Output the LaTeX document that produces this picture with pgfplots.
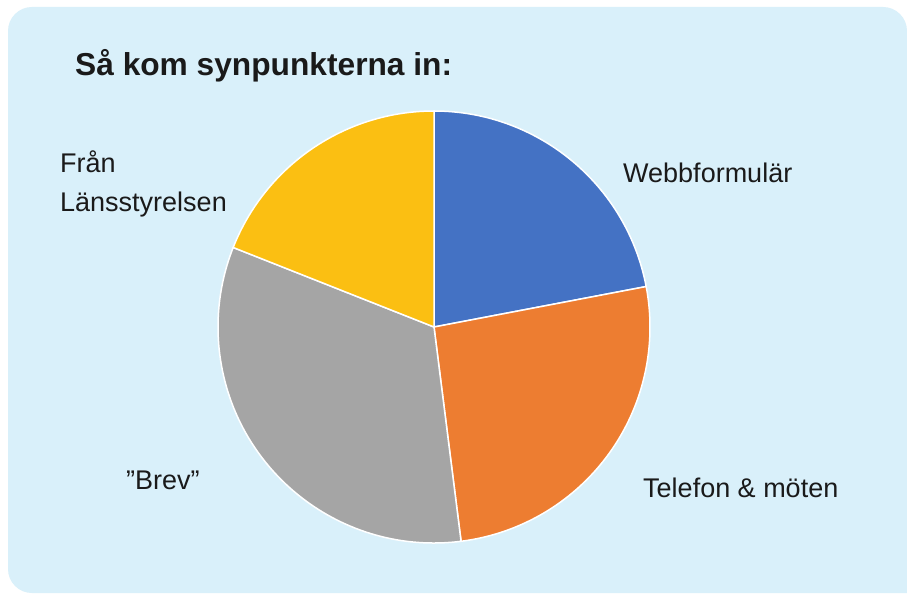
\documentclass[border=0pt]{standalone}
\usepackage{pgfplots}
\usepackage{pgfplotstable}
\pgfplotsset{compat=1.18}
\usepackage{fontspec}
\setmainfont{Liberation Sans}

\definecolor{bgblue}{HTML}{D9F0FA}
\definecolor{pieblue}{HTML}{4472C4}
\definecolor{pieorange}{HTML}{ED7D31}
\definecolor{piegray}{HTML}{A5A5A5}
\definecolor{pieyellow}{HTML}{FBBF12}
\definecolor{txt}{HTML}{1A1A1A}

% shares in percent, clockwise from 12 o'clock
\pgfplotstableread{
share
22
26
33
19
}\piedata

\begin{document}
\begin{tikzpicture}
\pgfplotstablegetelem{0}{share}\of\piedata \let\sA\pgfplotsretval
\pgfplotstablegetelem{1}{share}\of\piedata \let\sB\pgfplotsretval
\pgfplotstablegetelem{2}{share}\of\piedata \let\sC\pgfplotsretval
\pgfplotstablegetelem{3}{share}\of\piedata \let\sD\pgfplotsretval
\pgfmathsetmacro\aA{90}
\pgfmathsetmacro\aB{\aA-3.6*\sA}
\pgfmathsetmacro\aC{\aB-3.6*\sB}
\pgfmathsetmacro\aD{\aC-3.6*\sC}
\pgfmathsetmacro\aE{\aD-3.6*\sD}
\begin{axis}[
    hide axis,
    scale only axis,
    x=1pt, y=1pt,
    xmin=0, xmax=907,
    ymin=0, ymax=595,
    clip=false,
]
\fill[white] (axis cs:0,0) rectangle (axis cs:907,595);
\fill[bgblue] (axis cs:907,2) [rounded corners=24pt] -- (axis cs:8,2)
    -- (axis cs:8,588) -- (axis cs:907,588) [sharp corners] -- cycle;

\fill[pieblue, draw=white, line width=1.5pt] (axis cs:434,268) -- ++(\aA:216pt)
    arc[start angle=\aA, end angle=\aB, radius=216pt] -- cycle;
\fill[pieorange, draw=white, line width=1.5pt] (axis cs:434,268) -- ++(\aB:216pt)
    arc[start angle=\aB, end angle=\aC, radius=216pt] -- cycle;
\fill[piegray, draw=white, line width=1.5pt] (axis cs:434,268) -- ++(\aC:216pt)
    arc[start angle=\aC, end angle=\aD, radius=216pt] -- cycle;
\fill[pieyellow, draw=white, line width=1.5pt] (axis cs:434,268) -- ++(\aD:216pt)
    arc[start angle=\aD, end angle=\aE, radius=216pt] -- cycle;

\node[anchor=base west, inner sep=0pt, text=txt,
      font=\fontsize{31.7}{38}\selectfont\bfseries] at (axis cs:75,519) {Så kom synpunkterna in:};
\node[anchor=base west, inner sep=0pt, text=txt,
      font=\fontsize{27}{32}\selectfont] at (axis cs:623,412) {Webbformulär};
\node[anchor=base west, inner sep=0pt, text=txt,
      font=\fontsize{27}{32}\selectfont] at (axis cs:643,98) {Telefon \& möten};
\node[anchor=base west, inner sep=0pt, text=txt,
      font=\fontsize{27}{32}\selectfont] at (axis cs:126,106) {”Brev”};
\node[anchor=base west, inner sep=0pt, text=txt,
      font=\fontsize{27}{32}\selectfont] at (axis cs:60,422) {Från};
\node[anchor=base west, inner sep=0pt, text=txt,
      font=\fontsize{27}{32}\selectfont] at (axis cs:60,383) {Länsstyrelsen};
\end{axis}
\end{tikzpicture}
\end{document}
